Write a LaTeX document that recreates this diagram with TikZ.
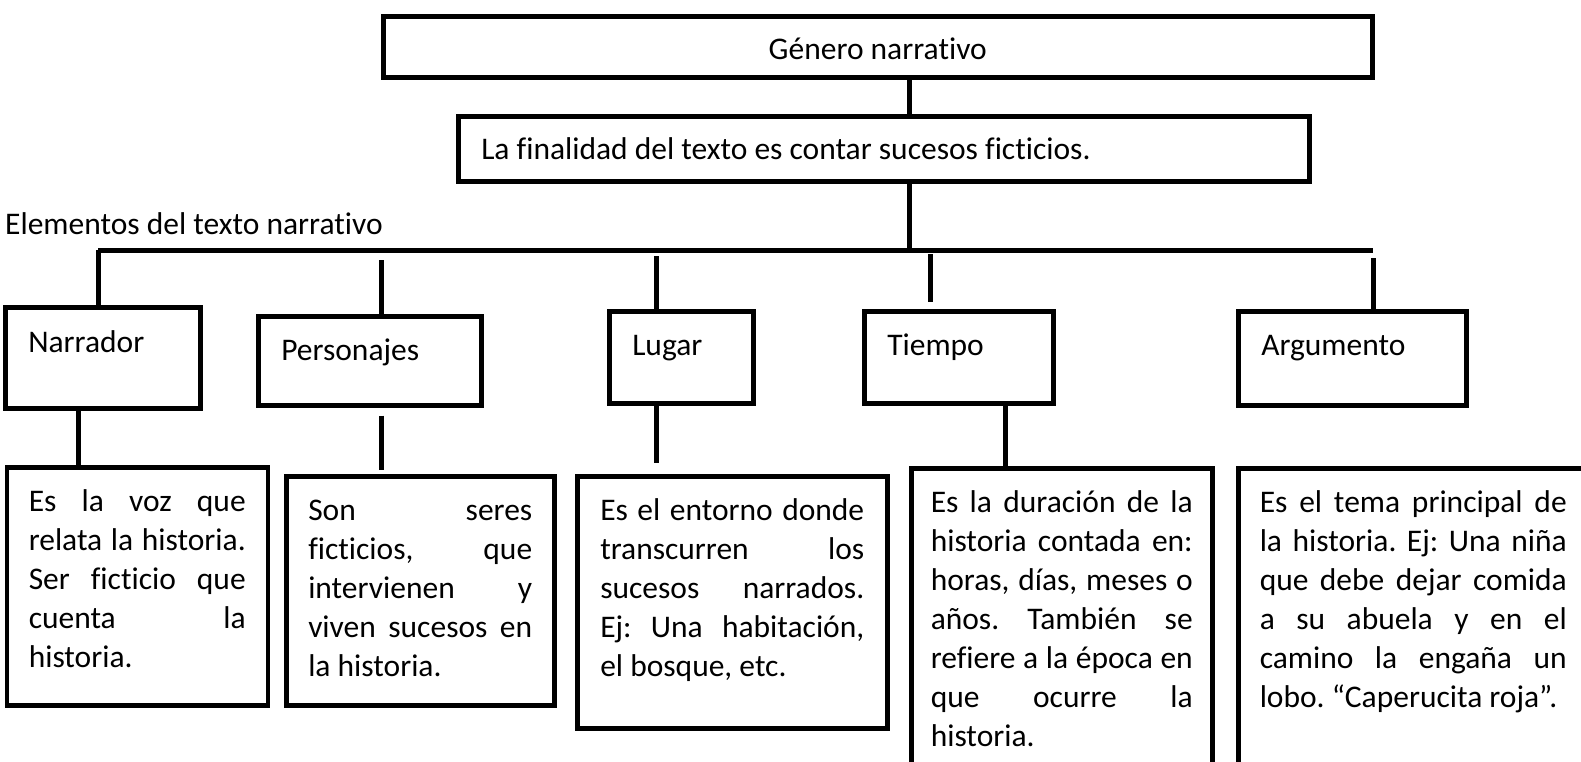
\documentclass[tikz,border=0pt]{standalone}
\usepackage{fontspec}
\setmainfont{Carlito}[Ligatures=NoCommon]
\hyphenpenalty=10000
\exhyphenpenalty=10000
\tolerance=10000
\frenchspacing
\tikzset{
  box/.style={draw, line width=4.5pt, anchor=north west, inner ysep=0pt},
  elembox/.style={box, inner xsep=23pt, text height=44pt, align=flush left},
  infobox/.style={box, text height=44pt, align=justify},
  link/.style={line width=5pt},
}

\begin{document}
\begin{tikzpicture}[x=1pt, y=-1pt, font=\fontsize{31.5}{39}\selectfont]
        \useasboundingbox (0,0) rectangle (1581,761);
        \clip (0,0) rectangle (1581,761);

        \node[box, minimum width=989, text height=43, text depth=18] (title) at (381,14) {Género narrativo};
        \node[elembox, text width=805, text height=43, text depth=22] (fin) at (456,114) {La finalidad del texto es contar sucesos ficticios.};
        \node[anchor=base west, inner sep=0pt] (elementos) at (5,234) {Elementos del texto narrativo};

        \node[elembox, text width=149, text height=45, text depth=56] (narr) at (3,305) {Narrador};
        \node[elembox, text width=177, text depth=45] (pers) at (256,314) {Personajes};
        \node[elembox, text width=98, text depth=48] (lug) at (607,309) {Lugar};
        \node[elembox, text width=143, text depth=48] (tie) at (862,309) {Tiempo};
        \node[elembox, text width=182, text depth=50] (arg) at (1236,309) {Argumento};

        \node[infobox, text width=217, inner xsep=22, text depth=194] (desc1) at (4.5,465) {Es la voz que\linebreak relata la historia.\linebreak Ser ficticio que\linebreak cuenta la\linebreak historia.};
        \node[infobox, text width=224, inner xsep=22, text depth=185] (desc2) at (284,474) {Son seres\linebreak ficticios, que\linebreak intervienen y\linebreak viven sucesos en\linebreak la historia.};
        \node[infobox, text width=264, inner xsep=23, text depth=208] (desc3) at (575,474) {Es el entorno donde\linebreak transcurren los\linebreak sucesos narrados.\linebreak Ej: Una habitación,\linebreak el bosque, etc.};
        \node[infobox, text width=262, inner xsep=19.5, text depth=300] (desc4) at (909,466) {Es la duración de la\linebreak historia contada en:\linebreak horas, días, meses o\linebreak años. También se\linebreak refiere a la época en\linebreak que ocurre la\linebreak historia.};
        \node[elembox, text width=349, inner xsep=21.5, text depth=300] (desc5) at (1236,466) {\parbox[t]{307pt}{Es el tema principal de\linebreak la historia. Ej: Una niña\linebreak que debe dejar comida\linebreak a su abuela y en el\linebreak camino la engaña un\linebreak lobo. “Caperucita roja”.}};

        \coordinate (j0) at (909,250);
        \coordinate (lineL) at (98,250);
        \coordinate (lineR) at (1373,250);
        \draw[link] (title.south -| j0) -- (fin.north -| j0);
        \draw[link] (fin.south -| j0) -- (j0);
        \draw[link] (lineL) -- (lineR);

        \coordinate (d2) at (381,260);
        \coordinate (d3) at (656,256);
        \coordinate (d4) at (930,254);
        \coordinate (d5) at (1373,258);
        \draw[link] (lineL) -- (lineL |- narr.north);
        \draw[link] (d2) -- (d2 |- pers.north);
        \draw[link] (d3) -- (d3 |- lug.north);
        \draw[link, shorten >=7pt] (d4) -- (d4 |- tie.north);
        \draw[link] (d5) -- (d5 |- arg.north);

        \coordinate (u1) at (78,0);
        \coordinate (u2) at (381,0);
        \coordinate (u3) at (656,0);
        \coordinate (u4) at (1005,0);
        \draw[link] (narr.south -| u1) -- (desc1.north -| u1);
        \draw[link, shorten <=8pt, shorten >=4pt] (pers.south -| u2) -- (desc2.north -| u2);
        \draw[link, shorten >=11pt] (lug.south -| u3) -- (desc3.north -| u3);
        \draw[link] (tie.south -| u4) -- (desc4.north -| u4);

    \end{tikzpicture}
\end{document}
